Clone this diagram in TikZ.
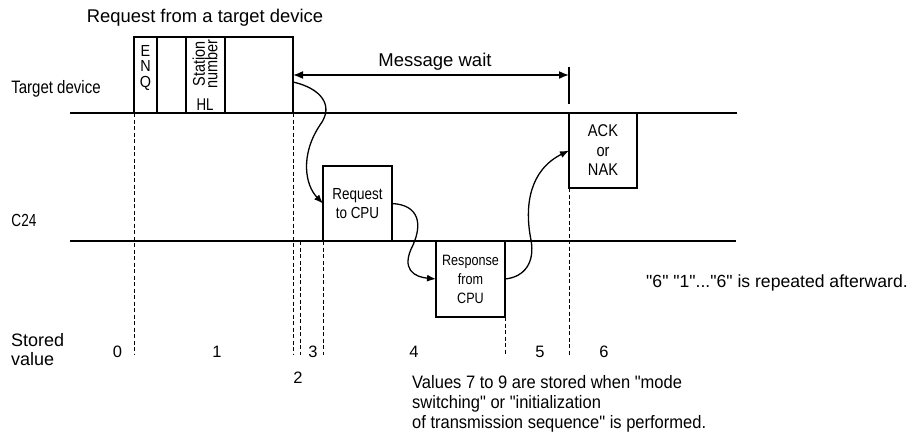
\documentclass[tikz,border=0pt]{standalone}
\usepackage{fontspec}
\usepackage{graphicx}
\setmainfont{Liberation Sans}[Ligatures=TeXOff]
\usetikzlibrary{arrows.meta}
\newcommand{\fs}[2]{\fontsize{#1}{#2}\selectfont}
\newcommand{\hs}[2]{\scalebox{#1}[1]{#2}}
\begin{document}
\begin{tikzpicture}[x=1pt,y=-1pt,
  lane/.style={line width=2pt},
  box/.style={draw, line width=1.4pt, inner sep=0pt, outer sep=0pt, anchor=north west, align=center},
  divider/.style={line width=1.4pt},
  guide/.style={line width=0.9pt, dash pattern=on 4pt off 2.5pt},
  flow/.style={line width=1.3pt, -{Latex[length=9pt,width=7pt]}},
  dim/.style={line width=1.6pt, {Latex[length=10pt,width=8pt]}-{Latex[length=10pt,width=8pt]}},
  lbl/.style={inner sep=0pt, align=center},
  lbll/.style={inner sep=0pt, align=left, anchor=west},
]
\useasboundingbox (0,0) rectangle (911,437);

% lanes
\draw[lane] (70,113) -- (737,113);
\draw[lane] (70,241) -- (736,241);

% request frame
\node[box, minimum width=159pt, minimum height=76pt] (frame) at (134,37) {};
\draw[divider] (157,37) -- (157,113);
\draw[divider] (186,37) -- (186,113);
\draw[divider] (225,37) -- (225,113);
\node[lbl, font=\fs{16}{15.5}] (enq) at (145.5,68) {\hs{0.9}{E}\\\hs{0.9}{N}\\\hs{0.9}{Q}};
\node[lbl, rotate=90, font=\fs{17}{12.5}] (stn) at (205,64) {\hs{0.85}{Station}\\\hs{0.85}{number}};
\node[lbl, font=\fs{17}{16}] (hl) at (205,105) {\hs{0.78}{HL}};

% boxes
\node[box, minimum width=69pt, minimum height=75pt] (req) at (323,166) {};
\node[box, minimum width=69pt, minimum height=76pt] (resp) at (436,241) {};
\node[box, minimum width=68pt, minimum height=75pt] (ack) at (569,113) {};
\node[lbl, font=\fs{16}{19}] (reqt) at (req.center) {\hs{0.84}{Request}\\\hs{0.84}{to CPU}};
\node[lbl, font=\fs{15}{19}] (respt) at (resp.center) {\hs{0.84}{Response}\\\hs{0.84}{from}\\\hs{0.84}{CPU}};
\node[lbl, font=\fs{17}{19.5}] (ackt) at (ack.center) {\hs{0.86}{ACK}\\\hs{0.86}{or}\\\hs{0.86}{NAK}};

% labels
\node[lbl, font=\fs{18.4}{20}] (title) at (205,18) {Request from a target device};
\node[lbl, font=\fs{18.5}{20}] (mwt) at (435,62) {Message wait};
\node[lbl, font=\fs{18}{18}] (tdev) at (56,89) {\hs{0.835}{Target device}};
\node[lbl, font=\fs{17.5}{18}] (c24) at (24,220) {\hs{0.78}{C24}};
\node[lbll, font=\fs{18}{19}] (stored) at (11,350) {Stored\\value};
\node[lbl, font=\fs{17.6}{20}] (rep) at (777,283) {"6" "1"..."6" is repeated afterward.};
\node[lbll, font=\fs{18}{20}] (vals) at (412,404) {\hs{0.917}{Values 7 to 9 are stored when "mode}\\\hs{0.917}{switching" or "initialization}\\\hs{0.917}{of transmission sequence" is performed.}};

% stored values
\node[lbl, font=\fs{16.5}{18}] (v0) at (117.5,352) {0};
\node[lbl, font=\fs{16.5}{18}] (v1) at (217,352) {1};
\node[lbl, font=\fs{16.5}{18}] (v2) at (298,378) {2};
\node[lbl, font=\fs{16.5}{18}] (v3) at (313,352) {3};
\node[lbl, font=\fs{16.5}{18}] (v4) at (414,352) {4};
\node[lbl, font=\fs{16.5}{18}] (v5) at (540,352) {5};
\node[lbl, font=\fs{16.5}{18}] (v6) at (604,352) {6};

% guides
\draw[guide] (frame.south west) -- (134,355);
\draw[guide] (frame.south east) -- (293,355);
\draw[guide] (300,241) -- (300,355);
\draw[guide] (req.south west) -- (323,355);
\draw[guide] (resp.south east) -- (505,355);
\draw[guide] (ack.south west) -- (569,355);

% message wait
\coordinate (mwR) at (569,75);
\coordinate (tickT) at (569,67);
\coordinate (tickB) at (569,104);
\draw[dim] (frame.east) -- (mwR);
\draw[line width=2pt] (tickT) -- (tickB);

% flows
\draw[flow] ([yshift=-7pt]frame.east) .. controls (320,88) and (335,105) .. (320,125)
   .. controls (300,155) and (305,185) .. (req.west);
\draw[flow] (req.east) .. controls (420,205) and (422,225) .. (413,245)
   .. controls (400,270) and (415,277) .. (resp.west);
\draw[flow] (resp.east) .. controls (525,277) and (535,262) .. (531,240)
   .. controls (524,205) and (530,170) .. (ack.west);
\end{tikzpicture}
\end{document}
